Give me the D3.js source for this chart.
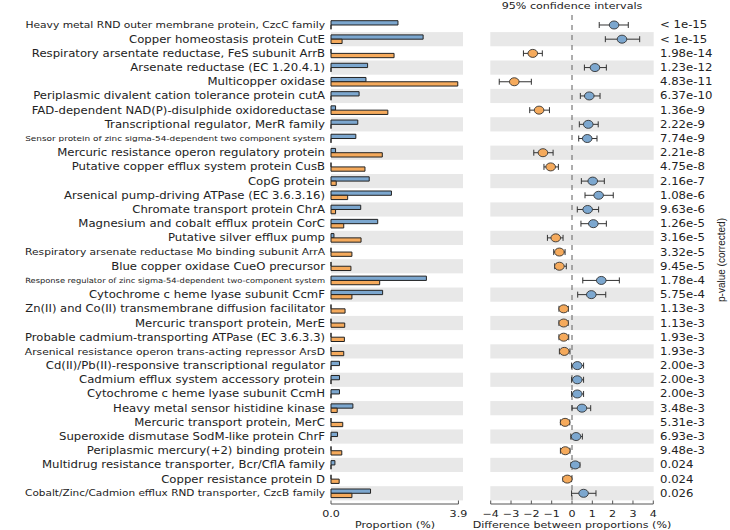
<!DOCTYPE html>
<html>
<head>
<meta charset="utf-8">
<script src="https://cdn.jsdelivr.net/npm/d3@7"></script>
<style>
  body { margin: 0; background: #fff; }
  text { font-family: "DejaVu Sans", sans-serif; fill: #222; }
</style>
</head>
<body>
<div id="chart"></div>
<script>
// functional categories, top to bottom
const features = [
  "Heavy metal RND outer membrane protein, CzcC family",
  "Copper homeostasis protein CutE",
  "Respiratory arsentate reductase, FeS subunit  ArrB",
  "Arsenate reductase (EC 1.20.4.1)",
  "Multicopper oxidase",
  "Periplasmic divalent cation tolerance protein cutA",
  "FAD-dependent NAD(P)-disulphide oxidoreductase",
  "Transcriptional regulator, MerR family",
  "Sensor protein of zinc sigma-54-dependent two component system",
  "Mercuric resistance operon regulatory protein",
  "Putative copper efflux system protein CusB",
  "CopG protein",
  "Arsenical pump-driving ATPase (EC 3.6.3.16)",
  "Chromate transport protein ChrA",
  "Magnesium and cobalt efflux protein CorC",
  "Putative silver efflux pump",
  "Respiratory arsenate reductase Mo binding subunit  ArrA",
  "Blue copper oxidase CueO precursor",
  "Response regulator of zinc sigma-54-dependent two-component system",
  "Cytochrome c heme lyase subunit CcmF",
  "Zn(II) and Co(II) transmembrane diffusion facilitator",
  "Mercuric transport protein, MerE",
  "Probable cadmium-transporting ATPase (EC 3.6.3.3)",
  "Arsenical resistance operon trans-acting repressor ArsD",
  "Cd(II)/Pb(II)-responsive transcriptional regulator",
  "Cadmium efflux system accessory protein",
  "Cytochrome c heme lyase subunit CcmH",
  "Heavy metal sensor histidine kinase",
  "Mercuric transport protein, MerC",
  "Superoxide dismutase SodM-like protein ChrF",
  "Periplasmic mercury(+2) binding protein",
  "Multidrug resistance transporter, Bcr/CflA family",
  "Copper resistance protein D",
  "Cobalt/Zinc/Cadmion efflux RND transporter, CzcB family"
];

// mean proportions (%) of the two groups
const propBlue = [2.05, 2.82, 0, 1.12, 1.07, 0.86, 0.14, 0.82, 0.76, 0.14, 0,
  1.17, 1.85, 0.91, 1.43, 0.09, 0, 0, 2.92, 1.58, 0, 0, 0,
  0, 0.26, 0.26, 0.26, 0.67, 0, 0.20, 0, 0.12, 0, 1.21];
const propOrange = [0, 0.34, 1.93, 0, 3.88, 0, 1.74, 0, 0, 1.57, 1.04,
  0.16, 0.51, 0.14, 0.39, 0.92, 0.64, 0.61, 1.49, 0.64, 0.43, 0.42, 0.41,
  0.39, 0, 0, 0, 0.19, 0.36, 0, 0.33, 0, 0.25, 0.64];

// difference between proportions and 95% CI
const diff = [2.07, 2.46, -1.93, 1.13, -2.84, 0.85, -1.62, 0.80, 0.75, -1.43, -1.05,
  1.02, 1.31, 0.77, 1.05, -0.80, -0.62, -0.62, 1.44, 0.95, -0.41, -0.41, -0.41,
  -0.38, 0.26, 0.26, 0.26, 0.49, -0.34, 0.20, -0.33, 0.16, -0.23, 0.57];
const ciLow = [1.34, 1.64, -2.39, 0.61, -3.58, 0.41, -2.08, 0.36, 0.33, -1.88, -1.38,
  0.46, 0.64, 0.26, 0.44, -1.21, -0.90, -0.85, 0.53, 0.28, -0.64, -0.64, -0.64,
  -0.62, -0.02, -0.02, -0.02, 0.00, -0.57, -0.06, -0.57, -0.05, -0.44, -0.02];
const ciHigh = [2.77, 3.33, -1.46, 1.69, -2.00, 1.38, -1.11, 1.29, 1.23, -0.93, -0.67,
  1.59, 2.03, 1.31, 1.69, -0.44, -0.34, -0.28, 2.33, 1.66, -0.18, -0.19, -0.16,
  -0.10, 0.57, 0.57, 0.57, 0.92, -0.11, 0.51, -0.10, 0.39, -0.02, 1.18];

const pvalues = ["< 1e-15", "< 1e-15", "1.98e-14", "1.23e-12", "4.83e-11", "6.37e-10",
  "1.36e-9", "2.22e-9", "7.74e-9", "2.21e-8", "4.75e-8", "2.16e-7", "1.08e-6",
  "9.63e-6", "1.26e-5", "3.16e-5", "3.32e-5", "9.45e-5", "1.78e-4", "5.75e-4",
  "1.13e-3", "1.13e-3", "1.93e-3", "1.93e-3", "2.00e-3", "2.00e-3", "2.00e-3",
  "3.48e-3", "5.31e-3", "6.93e-3", "9.48e-3", "0.024", "0.024", "0.026"];

const propTicks = [0, 3.9];
const diffTicks = [-4, -3, -2, -1, 0, 1, 2, 3, 4];

const blue = "#7ca7cf", orange = "#f5aa5c", band = "#e8e8e8", edge = "#222";
const fs = 10, sx = 1.17;   // the picture is a little stretched sideways

const W = 730, H = 530;
const svg = d3.select("#chart").append("svg")
  .attr("width", W).attr("height", H);

// text placed at (x, y) and widened by sx
function put(sel, x, y) {
  return sel.attr("transform", (d, i) => {
    const px = typeof x === "function" ? x(d, i) : x;
    const py = typeof y === "function" ? y(d, i) : y;
    return `translate(${px},${py}) scale(${sx},1)`;
  });
}

const data = features.map((f, i) => ({
  f, b: propBlue[i], o: propOrange[i], d: diff[i], lo: ciLow[i], hi: ciHigh[i], p: pvalues[i], i
}));

const y = d3.scaleBand().domain(features).range([17.9, 500.4]).padding(0);
const xp = d3.scaleLinear().domain([0, 4.04]).range([331, 463]);
const xd = d3.scaleLinear().domain([-4.02, 4.02]).range([490.3, 653.7]);
const cy = d => y(d.f) + y.bandwidth() / 2;
const axisY = 504;

// alternating row bands
const rows = data.filter(d => d.i % 2 === 1);
svg.selectAll("rect.bandL").data(rows).join("rect")
  .attr("x", xp(0)).attr("width", xp(4.04) - xp(0))
  .attr("y", d => y(d.f)).attr("height", y.bandwidth())
  .attr("fill", band);
svg.selectAll("rect.bandR").data(rows).join("rect")
  .attr("x", xd(-4.02)).attr("width", xd(4.02) - xd(-4.02))
  .attr("y", d => y(d.f)).attr("height", y.bandwidth())
  .attr("fill", band);

// feature labels, shrunk when too long
const maxLabel = 300;
put(svg.selectAll("text.lab").data(data).join("text"), 325, cy)
  .attr("class", "lab")
  .attr("dy", "0.35em")
  .attr("text-anchor", "end")
  .style("font-size", fs + "px")
  .text(d => d.f)
  .each(function() {
    const len = this.getComputedTextLength() * sx;
    if (len > maxLabel) d3.select(this).style("font-size", (fs * maxLabel / len) + "px");
  });

// proportion bars
const barH = 4.3;
const barPath = (v, top) => d => {
  const x0 = xp(0), x1 = xp(v(d));
  const y0 = top ? cy(d) - barH : cy(d), y1 = y0 + barH;
  return `M${x0},${y0}H${x1}V${y1}H${x0}Z`;
};
svg.selectAll("path.bb").data(data).join("path")
  .attr("d", barPath(d => d.b, true))
  .attr("fill", blue).attr("stroke", edge).attr("stroke-width", 1);
svg.selectAll("path.ob").data(data).join("path")
  .attr("d", barPath(d => d.o, false))
  .attr("fill", orange).attr("stroke", edge).attr("stroke-width", 1);

// proportion axis
const gp = svg.append("g").attr("transform", `translate(0,${axisY})`);
gp.append("line").attr("x1", xp(0)).attr("x2", xp(3.9)).attr("stroke", "#555");
gp.selectAll("line.t").data(propTicks).join("line")
  .attr("x1", d => xp(d)).attr("x2", d => xp(d)).attr("y1", 0).attr("y2", -3.5)
  .attr("stroke", "#555");
put(gp.selectAll("text").data(propTicks).join("text"), d => xp(d), 12.5)
  .attr("text-anchor", "middle").style("font-size", "9.5px")
  .text(d => d.toFixed(1));
put(svg.append("text"), 395, 528.3)
  .attr("text-anchor", "middle").style("font-size", "9.5px")
  .text("Proportion (%)");

// difference axis
const gd = svg.append("g").attr("transform", `translate(0,${axisY})`);
gd.append("line").attr("x1", xd(-4)).attr("x2", xd(4)).attr("stroke", "#555");
gd.selectAll("line.t").data(diffTicks).join("line")
  .attr("x1", d => xd(d)).attr("x2", d => xd(d)).attr("y1", 0).attr("y2", -3.5)
  .attr("stroke", "#555");
put(gd.selectAll("text").data(diffTicks).join("text"), d => xd(d), 12.5)
  .attr("text-anchor", "middle").style("font-size", "9.5px")
  .text(d => d < 0 ? "\u2212" + Math.abs(d) : d);
put(svg.append("text"), xd(0), 528.3)
  .attr("text-anchor", "middle").style("font-size", "9.5px")
  .text("Difference between proportions (%)");

put(svg.append("text"), xd(0), 9)
  .attr("text-anchor", "middle").style("font-size", "9.5px")
  .text("95% confidence intervals");

// zero line
svg.append("line")
  .attr("x1", xd(0)).attr("x2", xd(0)).attr("y1", 15).attr("y2", axisY)
  .attr("stroke", "#777").attr("stroke-width", 1.2).attr("stroke-dasharray", "5,5");

// confidence intervals
const ci = svg.append("g");
ci.selectAll("line.ci").data(data).join("line")
  .attr("x1", d => xd(d.lo)).attr("x2", d => xd(d.hi))
  .attr("y1", cy).attr("y2", cy).attr("stroke", "#333").attr("stroke-width", 1);
ci.selectAll("line.capL").data(data).join("line")
  .attr("x1", d => xd(d.lo)).attr("x2", d => xd(d.lo))
  .attr("y1", d => cy(d) - 3).attr("y2", d => cy(d) + 3).attr("stroke", "#333");
ci.selectAll("line.capR").data(data).join("line")
  .attr("x1", d => xd(d.hi)).attr("x2", d => xd(d.hi))
  .attr("y1", d => cy(d) - 3).attr("y2", d => cy(d) + 3).attr("stroke", "#333");
ci.selectAll("ellipse").data(data).join("ellipse")
  .attr("cx", d => xd(d.d)).attr("cy", cy)
  .attr("rx", 4.8).attr("ry", 4)
  .attr("fill", d => d.d > 0 ? blue : orange)
  .attr("stroke", "#333").attr("stroke-width", 0.9);

// p-values
put(svg.selectAll("text.pv").data(data).join("text"), 660, cy)
  .attr("class", "pv")
  .attr("dy", "0.35em")
  .style("font-size", fs + "px")
  .text(d => d.p);

svg.append("text")
  .attr("transform", `translate(725,${260}) rotate(-90)`)
  .attr("text-anchor", "middle").style("font-size", "10px")
  .style("font-family", "'Liberation Sans', sans-serif")
  .text("p-value (corrected)");
</script>
</body>
</html>
